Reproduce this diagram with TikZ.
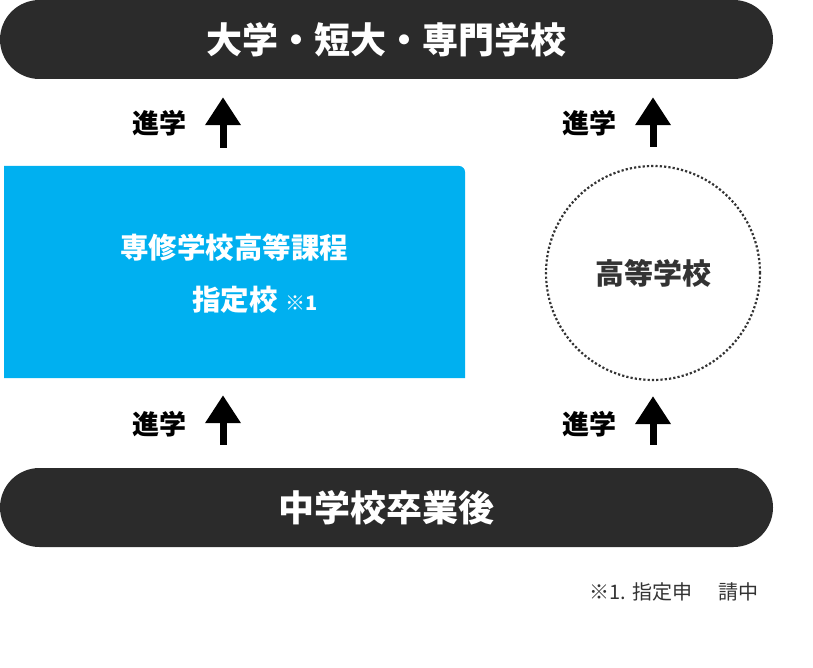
\documentclass[tikz,border=0pt]{standalone}
\usepackage{fontspec}
\setmainfont{Noto Sans CJK JP}
\usetikzlibrary{arrows.meta}
\definecolor{barfill}{HTML}{2B2B2B}
\definecolor{skyfill}{HTML}{00B0F0}
\definecolor{ink}{HTML}{333333}

\begin{document}
\begin{tikzpicture}[x=1pt,y=-1pt,
  bar/.style={fill=barfill, rounded corners=39.5pt, minimum width=773pt, minimum height=79pt, text=white, font=\fontsize{36}{36}\selectfont\bfseries},
  uparr/.style={line width=7pt, -{Triangle[width=34pt,length=28pt]}},
  shingaku/.style={font=\fontsize{27}{27}\selectfont\bfseries},
  boxtext/.style={text=white, font=\fontsize{28.5}{28.5}\selectfont\bfseries}]
\useasboundingbox (0,0) rectangle (813,668);

%Barres
\node[bar] (uni) at (386.5,39.5) {大学・短大・専門学校};
\node[bar] (jhs) at (386.5,507.5) {中学校卒業後};

%Cases
\fill[skyfill] (4,378) -- (4,166) -- (459,166) arc[start angle=-90, end angle=0, radius=6] -- (465,378) -- cycle;
\node[minimum width=461pt, minimum height=212pt] (course) at (234.5,272) {};
\node[boxtext] (koutou) at (234,248) {専修学校高等課程};
\node[boxtext] (shitei) at (255,300) {指定校\hspace{8pt}{\fontsize{20}{20}\selectfont ※1}};
\node[circle, draw=ink, line width=2.2pt, dash pattern=on 2.2pt off 2.1pt, minimum size=214pt, text=ink, font=\fontsize{29}{29}\selectfont\bfseries] (hs) at (653,273) {高等学校};

%Fleches
\draw[uparr, shorten <=18pt, shorten >=18pt] (course.north -| 223,0) -- (uni.south -| 223,0);
\draw[uparr, shorten <=18pt, shorten >=18pt] (hs.north) -- (hs.north |- uni.south);
\draw[uparr, shorten <=23pt, shorten >=17pt] (jhs.north -| 223,0) -- (course.south -| 223,0);
\draw[uparr, shorten <=23pt, shorten >=15pt] (hs.south |- jhs.north) -- (hs.south);
\node[shingaku] (s1) at (159,123) {進学};
\node[shingaku] (s2) at (589,123) {進学};
\node[shingaku] (s3) at (159,424) {進学};
\node[shingaku] (s4) at (589,424) {進学};

%Note
\node[anchor=west, text=ink, font=\fontsize{20}{20}\selectfont] (note) at (586,592) {※1. 指定申\hspace{1.3em}請中};

\end{tikzpicture}
\end{document}
